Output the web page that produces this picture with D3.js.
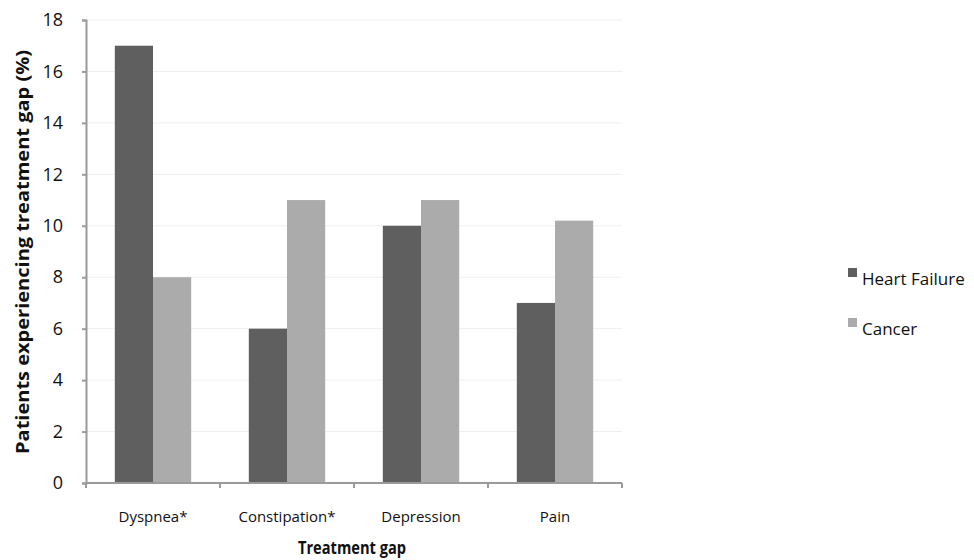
<!DOCTYPE html>
<html><head><meta charset="utf-8">
<script src="https://cdn.jsdelivr.net/npm/d3@7"></script>
<style>body{margin:0;background:#fff;} text{font-family:"Open Sans","Liberation Sans",sans-serif;}</style>
</head><body>
<svg id="c" width="974" height="560"></svg>
<script>
const categories = ["Dyspnea*", "Constipation*", "Depression", "Pain"];
const seriesNames = ["Heart Failure", "Cancer"];
const heartFailure = [17, 6, 10, 7];
const cancer = [8, 11, 11, 10.2];
const yTicks = [0, 2, 4, 6, 8, 10, 12, 14, 16, 18];
const colors = ["#5f5f5f", "#ababab"];

const svg = d3.select("#c");
const m = {left: 86, right: 352, top: 20, bottom: 77};
const W = 974, H = 560;
const x0 = d3.scaleBand().domain(categories).range([m.left, W - m.right]).paddingInner(0.43).paddingOuter(0.215);
const x1 = d3.scaleBand().domain(seriesNames).range([0, x0.bandwidth()]);
const y = d3.scaleLinear().domain([0, 18]).range([H - m.bottom, m.top]);
const vals = [heartFailure, cancer];

// gridlines
svg.append("g").selectAll("line").data(yTicks.filter(d => d > 0)).join("line")
  .attr("x1", m.left).attr("x2", W - m.right)
  .attr("y1", d => y(d)).attr("y2", d => y(d))
  .attr("stroke", "#efefef").attr("stroke-width", 1);

// bars
const g = svg.append("g");
categories.forEach((c, i) => {
  seriesNames.forEach((s, j) => {
    g.append("rect")
      .attr("x", x0(c) + x1(s)).attr("width", x1.bandwidth())
      .attr("y", y(vals[j][i])).attr("height", y(0) - y(vals[j][i]))
      .attr("fill", colors[j]);
  });
});

// y axis
const ya = svg.append("g").attr("transform", `translate(${m.left},0)`)
  .call(d3.axisLeft(y).tickValues(yTicks).tickSize(4).tickPadding(19));
ya.select(".domain").attr("stroke", "#9a9a9a").attr("stroke-width", 2);
ya.selectAll(".tick line").attr("stroke", "#9a9a9a").attr("stroke-width", 2);
ya.selectAll(".tick text").attr("font-size", 18).attr("fill", "#111");

// x axis
const step = x0.step();
const bounds = d3.range(categories.length + 1).map(i => m.left + i * step);
const xa = svg.append("g").attr("transform", `translate(0,${y(0)})`);
xa.append("line").attr("x1", m.left).attr("x2", W - m.right).attr("stroke", "#9a9a9a").attr("stroke-width", 2);
xa.selectAll(".t").data(bounds).join("line").attr("class", "t")
  .attr("x1", d => d).attr("x2", d => d).attr("y1", 0).attr("y2", 5)
  .attr("stroke", "#9a9a9a").attr("stroke-width", 2);
xa.selectAll("text").data(categories).join("text")
  .attr("x", d => x0(d) + x0.bandwidth() / 2).attr("y", 39)
  .attr("text-anchor", "middle").attr("font-size", 15).attr("fill", "#111")
  .text(d => d);

// axis titles
svg.append("text").attr("x", 352).attr("y", 554).attr("text-anchor", "middle")
  .attr("font-size", 17).attr("font-weight", "bold").attr("fill", "#111")
  .attr("textLength", 108).attr("lengthAdjust", "spacingAndGlyphs").text("Treatment gap");
svg.append("text").attr("transform", `translate(29,252) rotate(-90)`)
  .attr("text-anchor", "middle").attr("font-size", 18).attr("font-weight", "bold").attr("fill", "#111")
  .attr("textLength", 404).attr("lengthAdjust", "spacingAndGlyphs")
  .text("Patients experiencing treatment gap (%)");

// legend
const lg = svg.append("g").attr("transform", "translate(848,268)");
seriesNames.forEach((s, i) => {
  lg.append("rect").attr("x", 0).attr("y", i * 50).attr("width", 9).attr("height", 9).attr("fill", colors[i]);
  lg.append("text").attr("x", 14).attr("y", i * 50 + 17).attr("font-size", 17).attr("fill", "#111").text(s);
});
</script>
</body></html>
